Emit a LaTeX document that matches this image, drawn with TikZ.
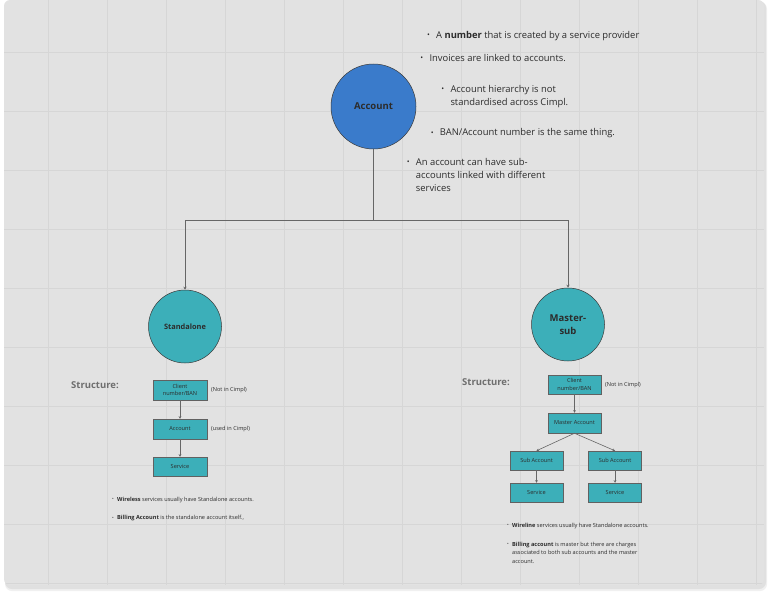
\documentclass[tikz,border=0pt]{standalone}
\usepackage{fontspec}
\setmainfont{Open Sans}
\usetikzlibrary{arrows.meta}

\definecolor{canvas}{HTML}{E2E2E2}
\definecolor{gridline}{HTML}{D6D6D6}
\definecolor{accblue}{HTML}{3A7BCB}
\definecolor{tealfill}{HTML}{3CAFB9}
\definecolor{edge}{HTML}{3A3A3A}
\definecolor{ink}{HTML}{2C2C2C}
\definecolor{wire}{HTML}{666666}
\definecolor{caption}{HTML}{6E6E6E}

% bullet hung to the left of the first line
\newcommand\dotmark[1]{\llap{\raisebox{0.07em}{\scalebox{0.8}{•}}\hspace{#1}}}

\tikzset{
  hub/.style={circle, draw=edge, line width=0.5pt, fill=accblue, minimum size=85pt,
    inner sep=0pt, text=ink, font=\bfseries\fontsize{9.5}{11}\selectfont},
  leaf/.style={circle, draw=edge, line width=0.5pt, fill=tealfill, minimum size=73pt,
    inner sep=0pt, text=ink, align=center},
  stepbox/.style={rectangle, draw=edge!80, line width=0.5pt, fill=tealfill, minimum width=54pt,
    minimum height=20pt, inner sep=0pt, align=center, text=ink,
    font=\fontsize{5.6}{7.6}\selectfont},
  bignote/.style={anchor=base west, inner sep=0pt, align=left, text=ink,
    font=\fontsize{9.4}{13.3}\selectfont},
  smallnote/.style={anchor=base west, inner sep=0pt, align=left, text=ink,
    font=\fontsize{5.6}{8.5}\selectfont},
  sidenote/.style={anchor=west, inner sep=0pt, text=ink, font=\fontsize{5.6}{7}\selectfont},
  heading/.style={anchor=west, inner sep=0pt, text=caption, font=\bfseries\fontsize{9.5}{11}\selectfont},
  linkarrow/.style={draw=wire, line width=0.8pt, -{Stealth[length=3pt,width=3pt]}},
  minilink/.style={draw=wire, line width=0.6pt, -{Stealth[length=2.5pt,width=2.5pt]}},
}

\begin{document}
\begin{tikzpicture}[x=1pt,y=-1pt]
\useasboundingbox (0,0) rectangle (770,594);
\fill[white] (0,0) rectangle (770,594);

% board with its soft shadow
\fill[black!6, rounded corners=7pt] (5,2) rectangle (767,591);
\fill[black!12, rounded corners=7pt] (5,1) rectangle (766,589);
\fill[canvas, rounded corners=6pt] (4,0) rectangle (764,585);
\begin{scope}
  \clip[rounded corners=6pt] (4,0) rectangle (764,585);
  \foreach \gx in {48,107,...,760} \draw[gridline, line width=0.9pt] (\gx,0) -- (\gx,585);
  \foreach \gy in {52,111,...,585} \draw[gridline, line width=0.9pt] (4,\gy) -- (764,\gy);
\end{scope}

% main account and its notes (multi-line notes sit on their last baseline)
\node[hub] (acc) at (373.5,106.5) {Account};

\node[bignote] (n1) at (436,38.1) {\dotmark{6.3pt}A \textbf{number} that is created by a service provider};
\node[bignote] (n2) at (429.3,61.1) {\dotmark{6.3pt}Invoices are linked to accounts.};
\node[bignote] (n3) at (450.3,105.7) {\dotmark{6.3pt}Account hierarchy is not\\standardised across Cimpl.};
\node[bignote] (n4) at (439.7,135.7) {\dotmark{6.3pt}BAN/Account number is the same thing.};
\node[bignote] (n5) at (415.7,191.7) {\dotmark{6.3pt}An account can have sub-\\accounts linked with different\\services};

% account types
\node[leaf, font=\bfseries\fontsize{7.4}{9}\selectfont] (sa) at (185,326.5) {Standalone};
\node[leaf, font=\bfseries\fontsize{9.5}{13}\selectfont] (ms) at (568,324.5) {Master-\\sub};

\coordinate (split) at (373.5,220);
\draw[linkarrow] (acc.south) -- (split) -| (sa.north);
\draw[linkarrow] (acc.south) -- (split) -| (ms.north);

% standalone structure
\node[heading] (sah) at (71,385) {Structure:};
\node[stepbox] (saclient) at (180,390) {Client\\number/BAN};
\node[stepbox] (saacc) at (180,429) {Account};
\node[stepbox, minimum height=19pt] (sasvc) at (180,466.5) {Service};
\node[sidenote] (sanot) at (211,390) {(Not in Cimpl)};
\node[sidenote] (saused) at (211,429) {(used in Cimpl)};
\draw[minilink] (saclient) -- (saacc);
\draw[minilink] (saacc) -- (sasvc);

\node[smallnote] (sa1) at (117,501) {\dotmark{3.4pt}\textbf{Wireless} services usually have Standalone accounts.};
\node[smallnote] (sa2) at (117,519.8) {\dotmark{3.4pt}\textbf{Billing Account} is the standalone account itself.,};

% master-sub structure
\node[heading] (msh) at (462,382) {Structure:};
\node[stepbox, minimum width=53pt, minimum height=19pt] (msclient) at (574.5,384.5) {Client\\number/BAN};
\node[stepbox, minimum width=53pt] (msmaster) at (574.5,423) {Master Account};
\node[stepbox, minimum width=53pt, minimum height=19pt] (subl) at (536.5,460.5) {Sub Account};
\node[stepbox, minimum width=53pt, minimum height=19pt] (subr) at (615,460.5) {Sub Account};
\node[stepbox, minimum width=53pt, minimum height=19pt] (svcl) at (536.5,492.5) {Service};
\node[stepbox, minimum width=53pt, minimum height=19pt] (svcr) at (615,492.5) {Service};
\node[sidenote] (msnot) at (605,385) {(Not in Cimpl)};
\draw[minilink] (msclient) -- (msmaster);
\draw[minilink] (msmaster.south) -- (subl.north);
\draw[minilink] (msmaster.south) -- (subr.north);
\draw[minilink] (subl) -- (svcl);
\draw[minilink] (subr) -- (svcr);

\node[smallnote] (ms1) at (512,527) {\dotmark{3.4pt}\textbf{Wireline} services usually have Standalone accounts.};
\node[smallnote] (ms2) at (512,563) {\dotmark{3.4pt}\textbf{Billing account} is master but there are charges\\associated to both sub accounts and the master\\account.};
\end{tikzpicture}
\end{document}
